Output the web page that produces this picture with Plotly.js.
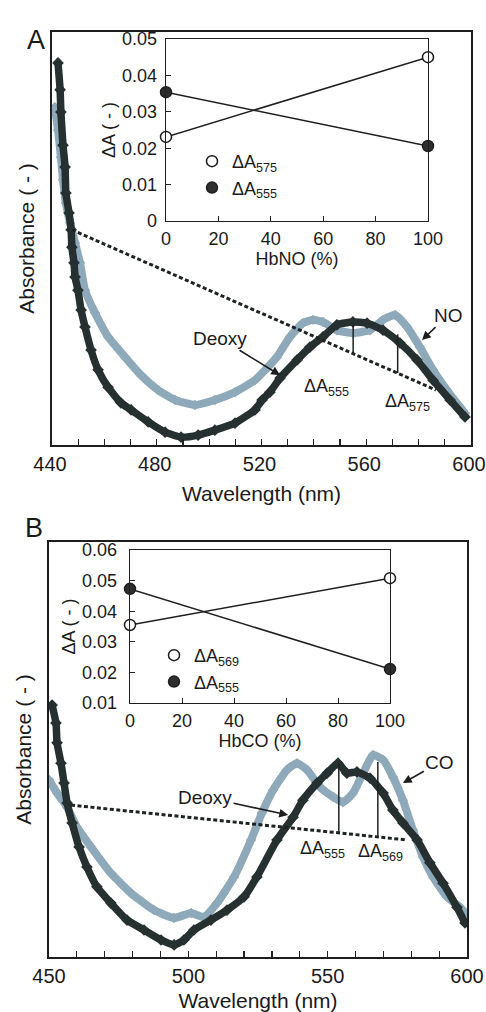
<!DOCTYPE html>
<html>
<head>
<meta charset="utf-8">
<script src="https://cdn.plot.ly/plotly-3.0.1.min.js"></script>
<style>html,body{margin:0;padding:0;background:#fff;}#chart{width:486px;height:1012px;}</style>
</head>
<body>
<div id="chart"></div>
<script>
// ---------- Panel A: main spectra (wavelength nm, absorbance arb. units) ----------
var wlA_deoxy = [442.3,443.1,443.4,444.2,445.0,445.3,446.5,447.3,447.6,448.4,448.8,449.9,451.1,452.6,454.9,457.6,461.4,466.3,470.2,476.7,483.2,489.3,495.8,502.2,509.9,517.5,520.2,523.2,527.1,533.6,538.5,543.5,548.8,554.9,560.3,566.4,572.9,579.4,585.5,592.0,597.7];
var absA_deoxy = [0.925,0.860,0.806,0.726,0.673,0.610,0.562,0.521,0.479,0.441,0.407,0.375,0.327,0.286,0.230,0.182,0.140,0.102,0.085,0.056,0.031,0.019,0.024,0.036,0.053,0.085,0.109,0.128,0.162,0.206,0.237,0.262,0.291,0.298,0.295,0.278,0.247,0.206,0.157,0.109,0.068];
var wlA_no = [441.1,442.3,443.4,444.2,445.3,446.9,448.8,450.7,452.6,456.4,461.4,467.9,474.0,480.5,487.0,494.6,502.2,509.9,517.5,522.5,525.9,530.9,535.8,539.7,543.5,548.8,555.0,561.4,566.4,571.0,575.6,580.5,585.5,590.8,595.8,597.7];
var absA_no = [0.818,0.763,0.697,0.642,0.586,0.538,0.489,0.441,0.375,0.320,0.262,0.213,0.169,0.133,0.109,0.097,0.109,0.128,0.157,0.189,0.213,0.262,0.295,0.303,0.298,0.278,0.271,0.278,0.303,0.315,0.286,0.237,0.182,0.133,0.092,0.077];
var wlA_base = [447.6, 586.6];
var absA_base = [0.521, 0.133];
var wlA_d555 = [555, 555];
var absA_d555 = [0.221, 0.292];
var wlA_d575 = [572, 572];
var absA_d575 = [0.174, 0.268];

// ---------- Panel A inset ----------
var hbno = [0, 100];
var dA575_A = [0.0231, 0.0450];
var dA555_A = [0.0354, 0.0206];
var hbnoTicks = [0, 20, 40, 60, 80, 100];
var dA_A_ticks = [0, 0.01, 0.02, 0.03, 0.04, 0.05];

// ---------- Panel B: main spectra ----------
var wlB_deoxy = [451.1,452.5,452.9,454.3,455.4,456.5,458.3,460.8,463.6,467.2,472.2,478.0,484.1,490.2,494.9,498.4,502.0,508.1,513.9,520.0,524.6,531.8,537.6,541.1,546.2,549.8,553.7,556.9,560.5,565.2,569.9,573.4,577.0,582.1,586.7,591.4,596.4,599.3];
var absB_deoxy = [0.607,0.564,0.516,0.467,0.419,0.371,0.323,0.265,0.217,0.169,0.130,0.089,0.065,0.041,0.029,0.041,0.065,0.089,0.113,0.145,0.193,0.282,0.337,0.378,0.419,0.443,0.467,0.443,0.446,0.431,0.395,0.354,0.323,0.282,0.227,0.178,0.120,0.082];
var wlB_co = [450.0,452.9,456.5,460.0,465.1,472.2,479.4,487.7,494.9,501.0,505.6,510.3,516.4,522.5,526.4,530.4,535.4,539.0,542.6,547.2,551.9,555.5,559.1,562.7,566.3,569.9,573.4,577.0,580.6,584.2,587.8,592.8,597.5,599.3];
var absB_co = [0.427,0.395,0.361,0.313,0.265,0.202,0.154,0.113,0.094,0.106,0.096,0.130,0.193,0.282,0.347,0.402,0.451,0.467,0.451,0.410,0.386,0.373,0.395,0.443,0.487,0.475,0.434,0.378,0.306,0.241,0.193,0.145,0.120,0.106];
var wlB_base = [457.9, 578.5];
var absB_base = [0.366, 0.282];
var wlB_d555 = [554, 554];
var absB_d555 = [0.300, 0.467];
var wlB_d569 = [568, 568];
var absB_d569 = [0.289, 0.470];

// ---------- Panel B inset ----------
var hbco = [0, 100];
var dA569_B = [0.0355, 0.0508];
var dA555_B = [0.0473, 0.0211];
var hbcoTicks = [0, 20, 40, 60, 80, 100];
var dA_B_ticks = [0.01, 0.02, 0.03, 0.04, 0.05, 0.06];

var wlA_ticks = [440, 480, 520, 560, 600];
var wlB_ticks = [450, 500, 550, 600];

// ---------- styling ----------
var DARK = '#263030';
var LIGHT = '#8ea9ba';
var FONT = 'Liberation Sans, Arial, sans-serif';
var TXT = '#1a1a1a';
var W = 486, H = 1012;
function fx(px){ return px / W; }
function fy(py){ return 1 - py / H; }

function spec(x, y, color, lw, ms, xa, ya, name){
  return {x: x, y: y, xaxis: xa, yaxis: ya, name: name, type: 'scatter', mode: 'lines+markers',
    line: {color: color, width: lw, shape: 'spline', smoothing: 0.5}, marker: {symbol: 'diamond', size: ms, color: color},
    showlegend: false, hoverinfo: 'skip'};
}
function seg(x, y, xa, ya, dash, lw){
  return {x: x, y: y, xaxis: xa, yaxis: ya, type: 'scatter', mode: 'lines',
    line: {color: '#1e2222', width: lw, dash: dash}, showlegend: false, hoverinfo: 'skip'};
}
function insetLine(x, y, xa, ya){
  return {x: x, y: y, xaxis: xa, yaxis: ya, type: 'scatter', mode: 'lines',
    line: {color: '#1e1e1e', width: 1.5}, showlegend: false, hoverinfo: 'skip', cliponaxis: false};
}
function insetPts(x, y, xa, ya, name, open, legend){
  return {x: x, y: y, xaxis: xa, yaxis: ya, type: 'scatter', mode: 'markers', name: name,
    legend: legend, cliponaxis: false, hoverinfo: 'skip',
    marker: {symbol: 'circle', size: 11, color: open ? '#ffffff' : '#2e2e2e',
             line: {color: '#1e1e1e', width: 1.5}}};
}

var traces = [
  spec(wlA_no, absA_no, LIGHT, 8, 8, 'x', 'y', 'NO'),
  spec(wlA_deoxy, absA_deoxy, DARK, 7.5, 9, 'x', 'y', 'Deoxy'),
  seg(wlA_base, absA_base, 'x', 'y', '4px,2.5px', 3),
  seg(wlA_d555, absA_d555, 'x', 'y', 'solid', 1.5),
  seg(wlA_d575, absA_d575, 'x', 'y', 'solid', 1.5),
  insetLine(hbno, dA575_A, 'x2', 'y2'),
  insetLine(hbno, dA555_A, 'x2', 'y2'),
  insetPts(hbno, dA575_A, 'x2', 'y2', 'ΔA<sub>575</sub>', true, 'legend'),
  insetPts(hbno, dA555_A, 'x2', 'y2', 'ΔA<sub>555</sub>', false, 'legend'),

  spec(wlB_co, absB_co, LIGHT, 8, 8, 'x3', 'y3', 'CO'),
  spec(wlB_deoxy, absB_deoxy, DARK, 7.5, 9, 'x3', 'y3', 'Deoxy'),
  seg(wlB_base, absB_base, 'x3', 'y3', '4px,2.5px', 3),
  seg(wlB_d555, absB_d555, 'x3', 'y3', 'solid', 1.5),
  seg(wlB_d569, absB_d569, 'x3', 'y3', 'solid', 1.5),
  insetLine(hbco, dA569_B, 'x4', 'y4'),
  insetLine(hbco, dA555_B, 'x4', 'y4'),
  insetPts(hbco, dA569_B, 'x4', 'y4', 'ΔA<sub>569</sub>', true, 'legend2'),
  insetPts(hbco, dA555_B, 'x4', 'y4', 'ΔA<sub>555</sub>', false, 'legend2')
];

function mainX(domain, range, ticks, anchor, title, shift){
  return {domain: domain, range: range, anchor: anchor, tickvals: ticks, ticks: 'inside', ticklen: 6,
    tickwidth: 1.2, tickcolor: '#222', showline: true, mirror: true, linecolor: '#1e1e1e', linewidth: 1.6,
    showgrid: false, zeroline: false, tickfont: {family: FONT, size: 20, color: TXT},
    ticklabeloverflow: 'allow', ticklabelshift: shift,
    minor: {dtick: 10, ticks: 'inside', ticklen: 6, tickwidth: 1.2, tickcolor: '#222', showgrid: false},
    title: {text: title, font: {family: FONT, size: 21, color: TXT}, standoff: 13}};
}
function mainY(domain, anchor, title){
  return {domain: domain, range: [0, 1], anchor: anchor, showticklabels: false, ticks: '',
    showline: true, mirror: true, linecolor: '#1e1e1e', linewidth: 1.6, showgrid: false, zeroline: false,
    title: {text: title, font: {family: FONT, size: 21, color: TXT}, standoff: 10}};
}
function insetX(domain, anchor, ticks, title){
  return {domain: domain, range: [0, 100], anchor: anchor, tickvals: ticks, ticks: 'inside', ticklen: 5,
    tickcolor: '#222', showline: true, mirror: true, linecolor: '#1e1e1e', linewidth: 1.4,
    showgrid: false, zeroline: false, tickfont: {family: FONT, size: 18, color: TXT}, ticklabelstandoff: 1,
    title: {text: title, font: {family: FONT, size: 18, color: TXT}, standoff: 1}};
}
function insetY(domain, anchor, range, ticks, title, so){
  return {domain: domain, range: range, anchor: anchor, tickvals: ticks, ticks: 'inside', ticklen: 5,
    tickcolor: '#222', showline: true, mirror: true, linecolor: '#1e1e1e', linewidth: 1.4,
    showgrid: false, zeroline: false, tickfont: {family: FONT, size: 18, color: TXT}, ticklabelstandoff: so,
    title: {text: title, font: {family: FONT, size: 18, color: TXT}, standoff: 1}};
}

function note(text, x, y, xa, ya, ax, ay, size){
  var a = {text: text, x: x, y: y, xref: xa, yref: ya, font: {family: FONT, size: size || 19, color: TXT}};
  if (ax === null) { a.showarrow = false; }
  else { a.showarrow = true; a.ax = ax; a.ay = ay; a.arrowhead = 2; a.arrowsize = 1.1; a.arrowwidth = 1.6; a.arrowcolor = '#1e1e1e'; a.standoff = 0; }
  return a;
}

var layout = {
  width: W, height: H, margin: {l: 0, r: 0, t: 0, b: 0},
  paper_bgcolor: '#ffffff', plot_bgcolor: '#ffffff',
  font: {family: FONT, color: TXT},
  xaxis: mainX([fx(52), fx(471)], [440, 600], wlA_ticks, 'y', 'Wavelength (nm)', -2),
  yaxis: mainY([fy(445), fy(32)], 'x', 'Absorbance ( - )'),
  xaxis2: insetX([fx(166), fx(428)], 'y2', hbnoTicks, 'HbNO (%)'),
  yaxis2: insetY([fy(221), fy(39)], 'x2', [0, 0.05], dA_A_ticks, 'ΔA ( - )', 4),
  xaxis3: mainX([fx(49), fx(467)], [450, 600], wlB_ticks, 'y3', 'Wavelength (nm)', 0),
  yaxis3: mainY([fy(957), fy(542)], 'x3', 'Absorbance ( - )'),
  xaxis4: insetX([fx(130), fx(390)], 'y4', hbcoTicks, 'HbCO (%)'),
  yaxis4: insetY([fy(703), fy(550)], 'x4', [0.01, 0.06], dA_B_ticks, 'ΔA ( - )', 8),
  legend: {x: fx(192), y: fy(143), xanchor: 'left', yanchor: 'top', bgcolor: 'rgba(0,0,0,0)',
    font: {family: FONT, size: 18, color: TXT}, itemwidth: 30, tracegroupgap: 0},
  legend2: {x: fx(154), y: fy(637), xanchor: 'left', yanchor: 'top', bgcolor: 'rgba(0,0,0,0)',
    font: {family: FONT, size: 18, color: TXT}, itemwidth: 30, tracegroupgap: 0},
  annotations: [
    {text: 'A', x: fx(25), y: fy(23), xref: 'paper', yref: 'paper', showarrow: false, font: {family: FONT, size: 27, color: TXT}},
    {text: 'B', x: fx(23), y: fy(528), xref: 'paper', yref: 'paper', showarrow: false, font: {family: FONT, size: 27, color: TXT}},
    note('Deoxy', 527.1, 0.169, 'x', 'y', -60, -37),
    note('NO', 581.3, 0.254, 'x', 'y', 26, -25),
    note('ΔA<sub>555</sub>', 545.0, 0.140, 'x', 'y', null, null, 18),
    note('ΔA<sub>575</sub>', 575.9, 0.102, 'x', 'y', null, null, 18),
    note('Deoxy', 535.8, 0.342, 'x3', 'y3', -83, -18),
    note('CO', 577.0, 0.419, 'x3', 'y3', 37, -21),
    note('ΔA<sub>555</sub>', 548.3, 0.258, 'x3', 'y3', null, null, 18),
    note('ΔA<sub>569</sub>', 568.8, 0.253, 'x3', 'y3', null, null, 18)
  ]
};

Plotly.newPlot('chart', traces, layout, {staticPlot: true, displayModeBar: false});
</script>
</body>
</html>
